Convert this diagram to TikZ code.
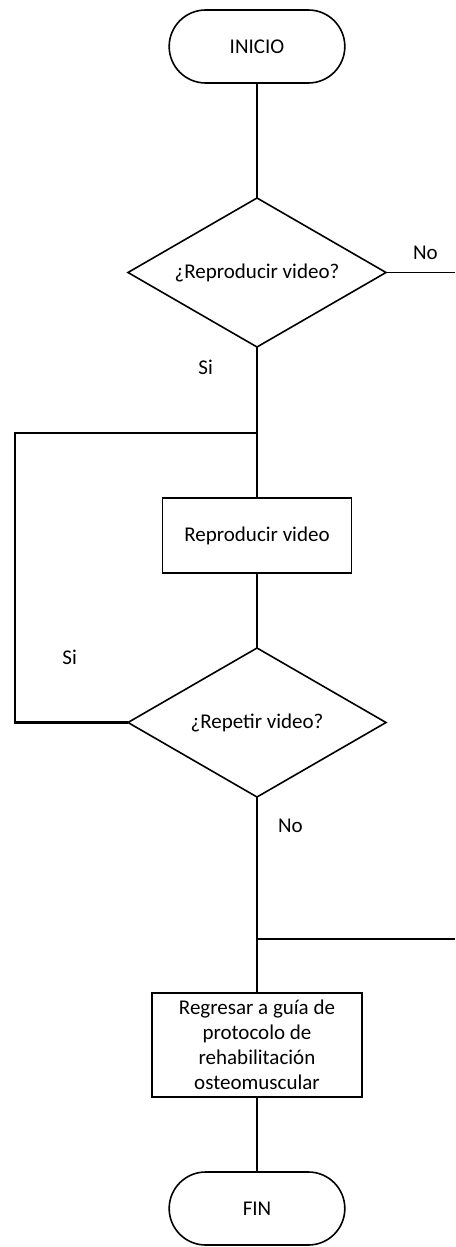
\documentclass[tikz,border=0pt]{standalone}
\usepackage{fontspec}
\setmainfont{Carlito}
\usepackage{tikz}
\usetikzlibrary{
  shapes.geometric,
  shapes.misc,
  positioning
}
\tikzset{
  % Start / end capsule
  term/.style={
    rounded rectangle, draw, line width=0.8pt,
    minimum width=94.5pt, minimum height=36.5pt,
    outer sep=0pt, align=center, font=\fontsize{10.5}{12.5}\selectfont
  },
  % Plain action box
  process/.style={
    rectangle, draw, line width=0.9pt,
    minimum width=94.5pt, minimum height=37.5pt,
    outer sep=0pt, align=center, font=\fontsize{10.5}{12.5}\selectfont
  },
  % Yes/no question
  decision/.style={
    diamond, aspect=2.5, draw, line width=0.8pt,
    minimum width=129pt, minimum height=74.5pt,
    inner sep=0pt, outer sep=0pt, align=center,
    font=\fontsize{10.5}{12.5}\selectfont
  },
  % Flow line
  flow/.style={line width=0.8pt},
  % Loop and merge lines
  bus/.style={line width=1.3pt},
  % Branch label
  lbl/.style={font=\fontsize{10.5}{12.5}\selectfont}
}

\begin{document}
\begin{tikzpicture}
  \useasboundingbox (0,0) rectangle (227.5pt,-623.5pt);
  \coordinate (edgeL) at (7.5pt,0);
  \coordinate (edgeR) at (227.5pt,0);

  \node[term] (inicio) at (128.5pt,-23.25pt) {INICIO};
  \node[decision, below=57.5pt of inicio] (q1) {¿Reproducir video?};
  \coordinate[below=43pt of q1] (j1);
  \node[process,  below=75.5pt of q1] (video) {Reproducir video};
  \node[decision, below=37.5pt of video] (q2) {¿Repetir video?};
  \coordinate[below=71pt of q2] (j2);
  \node[process, line width=1.2pt, minimum width=105pt, minimum height=52pt,
        inner sep=1pt, below=98pt of q2] (guia) {Regresar a guía de\\protocolo de\\rehabilitación\\osteomuscular};
  \node[term, below=37.5pt of guia] (fin) {FIN};

  % labels on the branches
  \node[lbl, above right=3pt and 10pt of q1.east]  (noA) {No};
  \node[lbl, below left=3pt and 18.5pt of q1.south] (siA) {Si};
  \node[lbl, above left=25.5pt and 22pt of q2.west] (siB) {Si};
  \node[lbl, below right=7.5pt and 7pt of q2.south] (noB) {No};

  \draw[flow] (inicio) -- (q1);
  \draw[flow] (q1.east) -- (q1.east -| edgeR);
  \draw[flow] (q1) -- (j1) -- (video);
  \draw[flow] (video) -- (q2);
  \draw[flow] (q2) -- (j2) -- (guia);
  \draw[flow] (guia) -- (fin);

  % repeat loop back to the video, and the merge from the right
  \draw[bus] (q2.west) -- (q2.west -| edgeL) |- (j1);
  \draw[bus] (j2) -- (j2 -| edgeR);
\end{tikzpicture}
\end{document}
